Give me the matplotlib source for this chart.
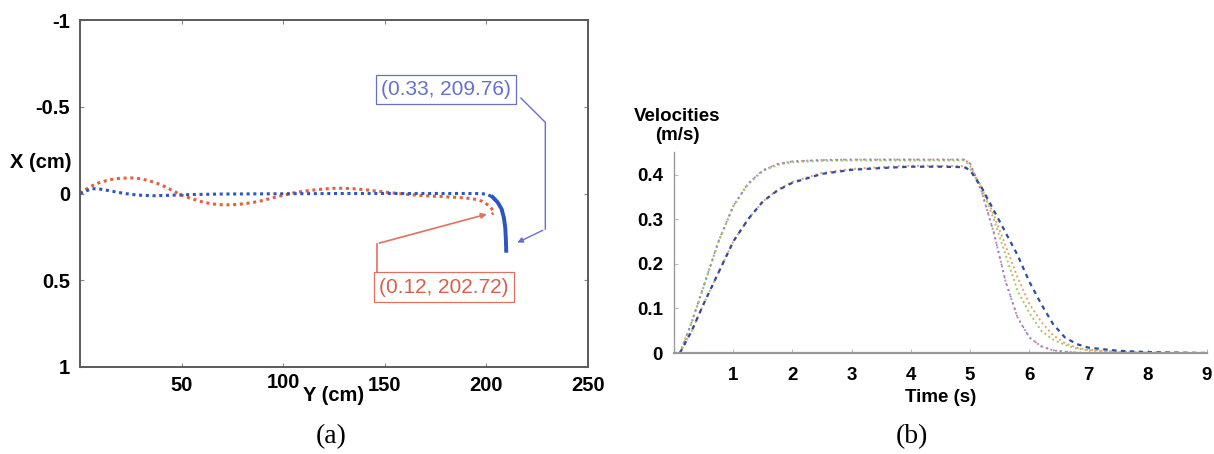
import numpy as np
import matplotlib
matplotlib.use("Agg")
import matplotlib.pyplot as plt

# ── Panel (a): trajectories, Y (cm) horizontal vs X (cm) vertical ──
Y_RED = [0, 5, 10, 15, 20, 25, 30, 35, 40, 45, 50, 55, 60, 65, 70, 75, 80,
         85, 90, 95, 100, 105, 110, 115, 120, 125, 130, 135, 140, 145, 150,
         155, 160, 165, 170, 175, 180, 185, 190, 195, 198, 200, 202, 203.5,
         203.7, 202.72]
X_RED = [0, -0.04, -0.065, -0.08, -0.088, -0.09, -0.085, -0.07, -0.05,
         -0.02, 0.01, 0.03, 0.048, 0.06, 0.065, 0.065, 0.06, 0.052, 0.04,
         0.025, 0.01, -0.003, -0.013, -0.02, -0.026, -0.03, -0.03, -0.027,
         -0.022, -0.015, -0.008, -0.002, 0.004, 0.009, 0.013, 0.016, 0.019,
         0.022, 0.026, 0.034, 0.045, 0.06, 0.08, 0.1, 0.11, 0.12]

Y_BLUE = [0, 3, 6, 10, 15, 20, 25, 30, 36, 45, 55, 70, 90, 110, 130, 150,
          170, 185, 195, 200, 203, 205.5, 207.5, 208.6, 209.3, 209.6, 209.76]
X_BLUE = [0, -0.015, -0.028, -0.025, -0.015, -0.004, 0.005, 0.01, 0.013,
          0.01, 0.006, 0.003, 0.002, 0.001, 0.0, 0.0, 0.0, 0.0, 0.0, 0.003,
          0.02, 0.05, 0.09, 0.14, 0.2, 0.27, 0.33]

A_XTICKS = [50, 100, 150, 200, 250]
A_YTICKS = [-1, -0.5, 0, 0.5, 1]
BLUE_NOTE = "(0.33, 209.76)"
RED_NOTE = "(0.12, 202.72)"

# ── Panel (b): velocity profiles ──
T = [0.1, 0.3, 0.5, 0.75, 1.0, 1.25, 1.5, 1.75, 2.0, 2.5, 3.0, 3.5, 4.0,
     4.5, 4.9, 5.0, 5.2, 5.4, 5.6, 5.8, 6.0, 6.2, 6.4, 6.6, 6.8, 7.0, 7.5,
     8.0, 8.5, 9.0]
V_FAST_A = [0, 0.07, 0.15, 0.25, 0.33, 0.38, 0.41, 0.424, 0.43, 0.433,
            0.434, 0.434, 0.434, 0.434, 0.434, 0.425, 0.36, 0.27, 0.16,
            0.08, 0.035, 0.015, 0.006, 0.003, 0.001, 0, 0, 0, 0, 0]
V_FAST_B = [0, 0.068, 0.148, 0.248, 0.328, 0.378, 0.408, 0.422, 0.428,
            0.431, 0.432, 0.432, 0.432, 0.432, 0.432, 0.42, 0.37, 0.3, 0.22,
            0.14, 0.09, 0.05, 0.03, 0.018, 0.01, 0.006, 0.002, 0, 0, 0]
V_SLOW_A = [0, 0.05, 0.11, 0.18, 0.25, 0.3, 0.34, 0.365, 0.382, 0.402,
            0.411, 0.415, 0.418, 0.418, 0.417, 0.41, 0.37, 0.32, 0.27, 0.22,
            0.16, 0.11, 0.065, 0.035, 0.02, 0.012, 0.005, 0.002, 0.001, 0]
V_SLOW_B = [0, 0.05, 0.11, 0.18, 0.25, 0.3, 0.34, 0.366, 0.384, 0.404,
            0.413, 0.417, 0.42, 0.42, 0.419, 0.412, 0.37, 0.31, 0.24, 0.17,
            0.11, 0.07, 0.04, 0.022, 0.012, 0.007, 0.003, 0.001, 0, 0]
B_XTICKS = [1, 2, 3, 4, 5, 6, 7, 8, 9]
B_YTICKS = [0, 0.1, 0.2, 0.3, 0.4]

FONT = "Liberation Sans"
BLUE = "#2a58c0"
RED = "#e8603a"

fig = plt.figure(figsize=(12.14, 4.54), dpi=100, facecolor="white")

# ── (a) ──
ax = fig.add_axes([80 / 1214, 87 / 454, 508 / 1214, 347 / 454])
ax.plot(Y_RED, X_RED, color=RED, lw=2.2, linestyle=(0, (1, 1.2)))
ax.plot(Y_BLUE, X_BLUE, color=BLUE, lw=2.2, linestyle=(0, (1, 1.2)))
ax.plot(Y_BLUE[-7:], X_BLUE[-7:], color=BLUE, lw=2.8)
ax.set_xlim(0, 250)
ax.set_ylim(1, -1)
ax.set_xticks(A_XTICKS)
ax.set_yticks(A_YTICKS)
ax.set_xticklabels([])
ax.set_yticklabels(["-1", "-0.5", "0", "0.5", "1"])
ax.tick_params(direction="in", length=3, color="#888888", pad=7,
               top=True, right=True)
for lbl in ax.get_yticklabels():
    lbl.set_fontfamily(FONT)
    lbl.set_fontweight("bold")
    lbl.set_fontsize(14.5)
for sp in ax.spines.values():
    sp.set_color("#5a5a5a")
    sp.set_linewidth(1.4)
for v in A_XTICKS:
    ax.text(v, 1.09 if v == 100 else 1.105, str(v), ha="center", va="center",
            fontsize=14.5, fontweight="bold", family=FONT, clip_on=False)
ax.text(125, 1.165, "Y (cm)", ha="center", va="center", fontsize=14.5,
        fontweight="bold", family=FONT, clip_on=False)
fig.text(41 / 1214, 1 - 162 / 454, "X (cm)", ha="center", va="center",
         fontsize=14.5, fontweight="bold", family=FONT)

# data tip annotations
ax.text(180, -0.60, BLUE_NOTE, ha="center", va="center", fontsize=15,
        color="#6670c8", family=FONT,
        bbox=dict(boxstyle="square,pad=0.25", fc="white", ec="#6670c8", lw=0.9))
ax.plot([217, 229, 229], [-0.55, -0.41, 0.205], color="#6670c8", lw=1.0)
ax.annotate("", xy=(214, 0.29), xytext=(229, 0.205),
            arrowprops=dict(arrowstyle="-|>", color="#6670c8", lw=1.0,
                            mutation_scale=8))
ax.text(179, 0.54, RED_NOTE, ha="center", va="center", fontsize=15,
        color="#d8604a", family=FONT,
        bbox=dict(boxstyle="square,pad=0.25", fc="white", ec="#e07060", lw=0.9))
ax.plot([146, 146], [0.465, 0.29], color="#e07060", lw=1.2)
ax.annotate("", xy=(201.5, 0.115), xytext=(146, 0.29),
            arrowprops=dict(arrowstyle="-|>", color="#e07060", lw=1.2,
                            mutation_scale=8))

# ── (b) ──
bx = fig.add_axes([674 / 1214, 101 / 454, 533 / 1214, 201 / 454])
bx.plot(T, V_FAST_A, color="#e080a0", lw=1.4, linestyle=(0, (1, 1.5)))
bx.plot(T, V_FAST_B, color="#a8c860", lw=1.4, linestyle=(0, (1, 1.5)))
bx.plot(T, V_FAST_A, color="#6a8cd8", lw=1.2, linestyle=(1, (1, 3)))
bx.plot(T, V_SLOW_B, color="#e8a070", lw=1.4, linestyle=(0, (1, 1.5)))
bx.plot(T, V_SLOW_A, color="#2c4fa0", lw=1.6, linestyle=(0, (2, 2)))
bx.set_xlim(0, 9)
bx.set_ylim(0, 0.451)
bx.set_xticks(B_XTICKS)
bx.set_yticks(B_YTICKS)
bx.set_xticklabels([str(v) for v in B_XTICKS])
bx.set_yticklabels(["0", "0.1", "0.2", "0.3", "0.4"])
bx.spines["top"].set_visible(False)
bx.spines["right"].set_visible(False)
bx.spines["left"].set_color("#9a9a9a")
bx.spines["bottom"].set_color("#9a9a9a")
bx.spines["left"].set_linewidth(1.0)
bx.spines["bottom"].set_linewidth(1.6)
bx.tick_params(axis="x", direction="in", length=3, color="#bbbbbb", pad=10)
bx.tick_params(axis="y", direction="in", length=3, color="#bbbbbb", pad=8)
for lbl in bx.get_xticklabels() + bx.get_yticklabels():
    lbl.set_fontfamily(FONT)
    lbl.set_fontweight("bold")
    lbl.set_fontsize(13.5)
bx.set_xlabel("Time (s)", fontsize=13.5, fontweight="bold", family=FONT,
              labelpad=4)
fig.text(677 / 1214, 1 - 126 / 454, "Velocities\n(m/s)", ha="center",
         va="center", fontsize=13.5, fontweight="bold", family=FONT,
         linespacing=1.1)

# captions
fig.text(331 / 1214, 1 - 437 / 454, "(a)", ha="center", va="center",
         fontsize=20, family="Liberation Serif")
fig.text(912 / 1214, 1 - 437 / 454, "(b)", ha="center", va="center",
         fontsize=20, family="Liberation Serif")

fig.savefig("out.png", dpi=100, facecolor="white")
